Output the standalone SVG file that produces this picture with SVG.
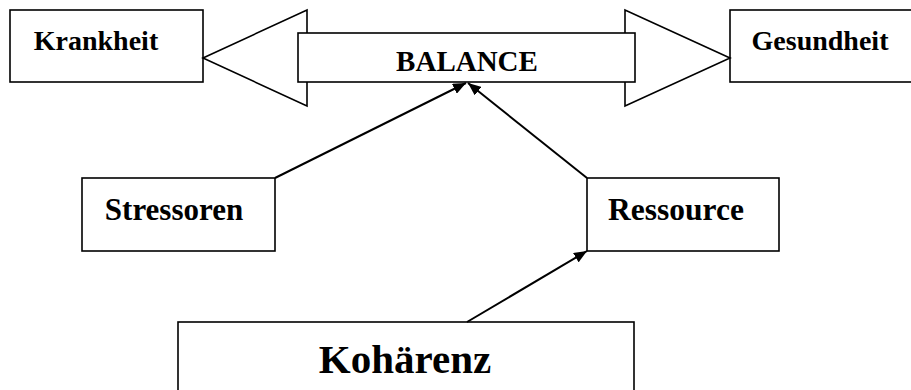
<svg xmlns="http://www.w3.org/2000/svg" width="911" height="390" viewBox="0 0 911 390">
<style>
.box{fill:#fff;stroke:#000;stroke-width:1.6}
.t{font-family:"Liberation Serif","Times New Roman",serif;font-weight:bold;fill:#000;text-anchor:middle}
.c{stroke:#000;stroke-width:2;fill:none;marker-end:url(#ah)}
</style>
<defs>
<marker id="ah" viewBox="0 0 13 11" refX="13" refY="5.5" markerWidth="13" markerHeight="11" markerUnits="userSpaceOnUse" orient="auto">
<path d="M0,0 L13,5.5 L0,11 Z" fill="#000"/>
</marker>
</defs>
<rect width="911" height="390" fill="#fff"/>
<g id="krankheit">
<rect class="box" x="10" y="10" width="193" height="72"/>
<text class="t" x="96" y="50" font-size="28">Krankheit</text>
</g>
<g id="gesundheit">
<rect class="box" x="730" y="10" width="190" height="72"/>
<text class="t" x="820" y="50" font-size="28">Gesundheit</text>
</g>
<g id="balance">
<polygon class="box" points="203,58 307,10 307,106"/>
<polygon class="box" points="730,58 625,10 625,106"/>
<rect class="box" x="298" y="33" width="337" height="49"/>
<text class="t" x="467" y="71" font-size="29">BALANCE</text>
</g>
<g id="stressoren">
<rect class="box" x="82" y="178" width="193" height="73"/>
<text class="t" x="174" y="220" font-size="31">Stressoren</text>
</g>
<g id="ressource">
<rect class="box" x="587" y="178" width="192" height="73"/>
<text class="t" x="676" y="220" font-size="31.5">Ressource</text>
</g>
<g id="koharenz">
<rect class="box" x="178" y="322" width="456" height="80"/>
<text class="t" x="405" y="373" font-size="41">Kohärenz</text>
</g>
<g id="connectors">
<line class="c" x1="275" y1="178" x2="466" y2="83"/>
<line class="c" x1="587" y1="178" x2="468" y2="83"/>
<line class="c" x1="467" y1="322" x2="587" y2="251"/>
</g>
</svg>
